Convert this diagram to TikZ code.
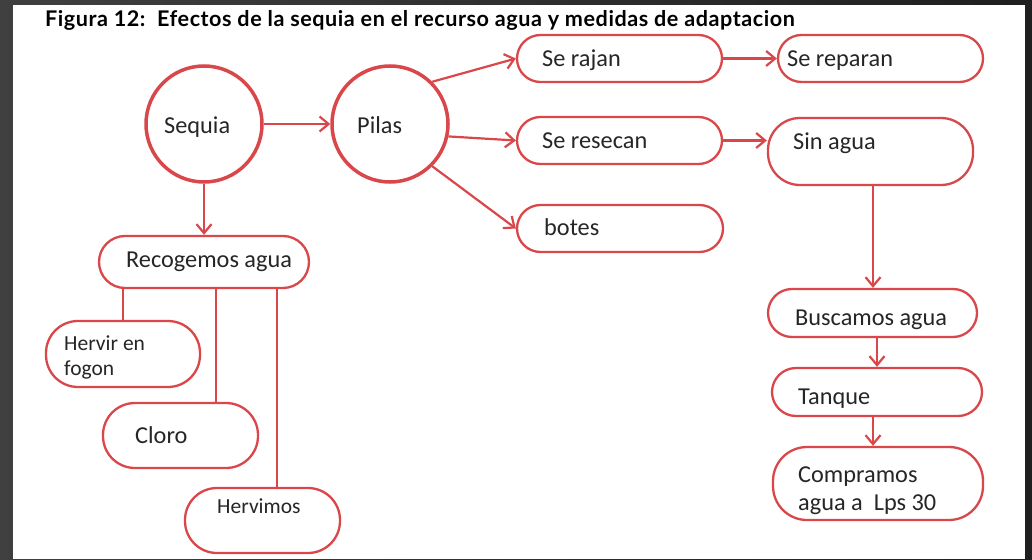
\documentclass[tikz,border=0pt]{standalone}
\usepackage{fontspec}
\setmainfont{Carlito}
\newfontfamily\titlefont[LetterSpace=2.5]{Lato}
\usetikzlibrary{arrows.meta}
\definecolor{lred}{HTML}{D9474B}
\definecolor{txt}{HTML}{262626}
\begin{document}
\begin{tikzpicture}[x=1pt,y=-1pt,
  pill/.style={draw=lred, line width=2.3pt, fill=white, rectangle, inner sep=0pt},
  circ/.style={draw=lred, line width=3.5pt, fill=white, circle, inner sep=0pt, minimum size=116pt},
  lbl/.style={inner sep=0pt, anchor=base west, text=txt, font=\fontsize{24.3}{28}\selectfont},
  slbl/.style={inner sep=0pt, anchor=base west, text=txt, font=\fontsize{21.5}{25}\selectfont},
  arr/.style={draw=lred, line width=2.2pt, -{Straight Barb[length=9pt,width=15pt,line width=2.2pt]}},
  con/.style={draw=lred, line width=2.2pt}]
% background
\shade[left color=black!75, right color=black!88] (0,0) rectangle (1032,559);
\fill[white] (13,5) rectangle (1025,559);
\useasboundingbox (0,0) rectangle (1032,559);
% title
\node[inner sep=0pt, anchor=base west, text=black, font=\titlefont\bfseries\fontsize{21.6}{25}\selectfont] (title) at (45,27) {Figura 12:\ \ Efectos de la sequia en el recurso agua y medidas de adaptacion};
% circles
\node[circ] (sequia) at (204,124) {};
\node[lbl] (sequia-t) at (164,133) {Sequia};
\node[circ] (pilas) at (390,124) {};
\node[lbl] (pilas-t) at (357,133) {Pilas};
% right boxes
\node[pill, minimum width=205pt, minimum height=47pt, rounded corners=23.5pt] (rajan) at (619.5,58.5) {};
\node[lbl] (rajan-t) at (542,67) {Se rajan};
\node[pill, minimum width=205pt, minimum height=47pt, rounded corners=23.5pt] (reparan) at (880.5,58.5) {};
\node[lbl] (reparan-t) at (787,67) {Se reparan};
\node[pill, minimum width=205pt, minimum height=47pt, rounded corners=23.5pt] (resecan) at (619.5,140.5) {};
\node[lbl] (resecan-t) at (542,148) {Se resecan};
\node[pill, minimum width=205pt, minimum height=67pt, rounded corners=32pt] (sinagua) at (870.5,151.5) {};
\node[lbl] (sinagua-t) at (793,149) {Sin agua};
\node[pill, minimum width=206pt, minimum height=47pt, rounded corners=23.5pt] (botes) at (620,228.5) {};
\node[lbl] (botes-t) at (544,235) {botes};
\node[pill, minimum width=209pt, minimum height=48pt, rounded corners=24pt] (buscamos) at (872.5,313) {};
\node[lbl] (buscamos-t) at (795,325) {Buscamos agua};
\node[pill, minimum width=210pt, minimum height=48pt, rounded corners=24pt] (tanque) at (877,392) {};
\node[lbl] (tanque-t) at (798,404) {Tanque};
\node[pill, minimum width=210pt, minimum height=73pt, rounded corners=34pt] (compramos) at (878,483.5) {};
\node[lbl, align=left] (compramos-t) at (798,510) {Compramos\\agua a\ \ Lps 30};
% left boxes
\node[pill, minimum width=210pt, minimum height=52pt, rounded corners=26pt] (recogemos) at (204,262) {};
\node[lbl] (recogemos-t) at (126,267) {Recogemos agua};
\node[pill, minimum width=154pt, minimum height=66pt, rounded corners=32pt] (hervir) at (123,354) {};
\node[slbl, align=left] (hervir-t) at (64,375) {Hervir en\\fogon};
\node[pill, minimum width=155pt, minimum height=65pt, rounded corners=32pt] (cloro) at (180.5,435.5) {};
\node[lbl] (cloro-t) at (135,443) {Cloro};
\node[pill, minimum width=155pt, minimum height=65pt, rounded corners=32pt] (hervimos) at (262.5,520.5) {};
\node[slbl] (hervimos-t) at (217,513) {Hervimos};
% connectors
\draw[arr] (sequia) -- (pilas);
\draw[arr] (pilas.45) -- (rajan.west);
\draw[arr] (pilas.-12) -- (resecan.west);
\draw[arr] (pilas.-45) -- (botes.west);
\draw[arr] (rajan.east) -- (reparan.west);
\draw[arr] (resecan.east) -- (resecan.east -| sinagua.west);
\draw[arr] ([xshift=2.5pt]sinagua.south) -- ([xshift=0.5pt]buscamos.north);
\draw[arr] (tanque.north |- buscamos.south) -- (tanque.north);
\draw[arr] ([xshift=-4pt]tanque.south) -- ([xshift=-5pt]compramos.north);
\draw[arr] (sequia.south) -- (recogemos.north);
\draw[con] (hervir.north |- recogemos.south) -- (hervir.north);
\draw[con] ([xshift=12pt]recogemos.south) -- ([xshift=12pt]recogemos.south |- cloro.north);
\draw[con] ([xshift=73pt]recogemos.south) -- ([xshift=73pt]recogemos.south |- hervimos.north);
\end{tikzpicture}
\end{document}
